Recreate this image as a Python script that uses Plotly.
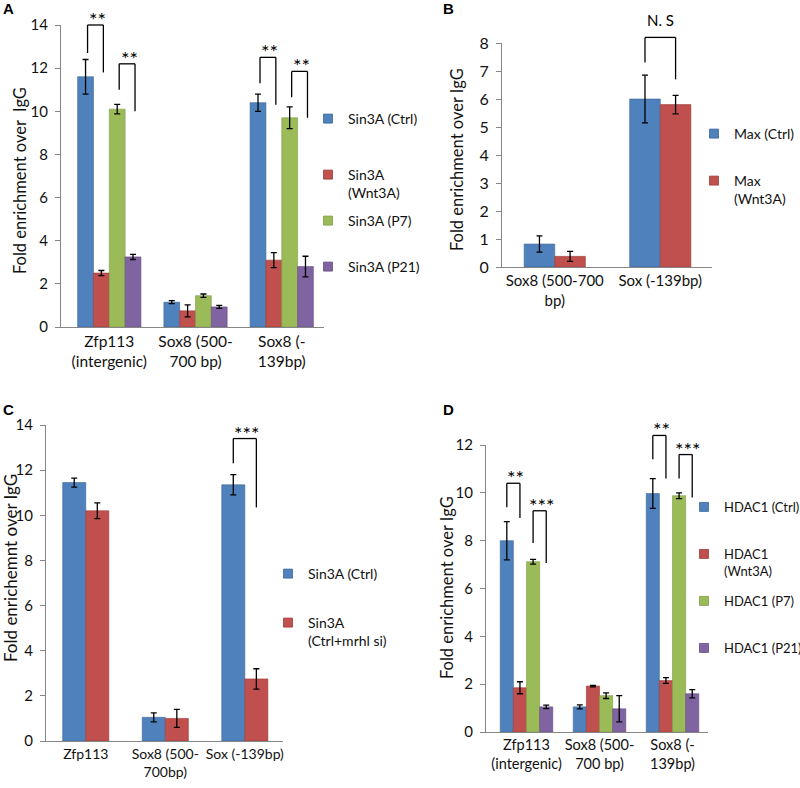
import plotly.graph_objects as go

# ---- data ----
# A: Sin3A ChIP, 4 conditions
a_sites = ["Zfp113<br>(intergenic)", "Sox8 (500-<br>700 bp)", "Sox8 (-<br>139bp)"]
a_names = ["Sin3A (Ctrl)", "Sin3A<br>(Wnt3A)", "Sin3A (P7)", "Sin3A (P21)"]
a_ctrl = [11.6, 1.15, 10.4]
a_ctrl_err = [0.8, 0.07, 0.4]
a_wnt = [2.5, 0.75, 3.1]
a_wnt_err = [0.12, 0.28, 0.35]
a_p7 = [10.1, 1.45, 9.7]
a_p7_err = [0.22, 0.08, 0.5]
a_p21 = [3.25, 0.93, 2.8]
a_p21_err = [0.12, 0.07, 0.48]

# B: Max ChIP
b_sites = ["Sox8 (500-700<br>bp)", "Sox (-139bp)"]
b_names = ["Max (Ctrl)", "Max<br>(Wnt3A)"]
b_ctrl = [0.82, 6.0]
b_ctrl_err = [0.29, 0.85]
b_wnt = [0.38, 5.8]
b_wnt_err = [0.18, 0.33]

# C: Sin3A after mrhl knockdown
c_sites = ["Zfp113", "Sox8 (500-<br>700bp)", "Sox (-139bp)"]
c_names = ["Sin3A (Ctrl)", "Sin3A<br>(Ctrl+mrhl si)"]
c_ctrl = [11.45, 1.05, 11.35]
c_ctrl_err = [0.2, 0.2, 0.45]
c_si = [10.2, 1.0, 2.75]
c_si_err = [0.35, 0.4, 0.45]

# D: HDAC1 ChIP
d_sites = ["Zfp113<br>(intergenic)", "Sox8 (500-<br>700 bp)", "Sox8 (-<br>139bp)"]
d_names = ["HDAC1 (Ctrl)", "HDAC1<br>(Wnt3A)", "HDAC1 (P7)", "HDAC1 (P21)"]
d_ctrl = [8.0, 1.05, 9.97]
d_ctrl_err = [0.8, 0.08, 0.62]
d_wnt = [1.85, 1.92, 2.15]
d_wnt_err = [0.25, 0.03, 0.12]
d_p7 = [7.12, 1.52, 9.88]
d_p7_err = [0.1, 0.12, 0.12]
d_p21 = [1.05, 0.97, 1.6]
d_p21_err = [0.07, 0.55, 0.17]

# significance brackets: (group, left bar, right bar, top, left foot, right foot, label)
a_sig = [(0, 0, 1, 14.0, 12.7, 11.8, "**"), (0, 2, 3, 12.2, 11.0, 10.0, "**"),
         (2, 0, 1, 12.5, 11.3, 10.3, "**"), (2, 2, 3, 11.85, 10.65, 9.7, "**")]
b_sig = [(1, 0, 1, 8.2, 7.3, 6.7, "N. S")]
c_sig = [(2, 0, 1, 13.4, 12.3, 10.35, "***")]
d_sig = [(0, 0, 1, 10.4, 9.4, 8.95, "**"), (0, 2, 3, 9.25, 7.9, 7.07, "***"),
         (2, 0, 1, 12.4, 11.4, 10.6, "**"), (2, 2, 3, 11.6, 10.6, 9.8, "***")]

COLORS = ["#4F81BD", "#C0504D", "#9BBB59", "#8064A2"]
EDGES = ["#3C6696", "#9C3B38", "#7E9A45", "#654D84"]
FONT = "Lato, 'Open Sans', sans-serif"
INK = "#111"
W, H = 800, 788


def px_x(a, b):
    return [a / W, b / W]


def px_y(bottom, top):
    return [1 - bottom / H, 1 - top / H]


# subplot boxes (pixel positions) and axis settings
panels = {
    "": dict(xd=px_x(61, 324), yd=px_y(327, 25), xr=[-0.56, 2.49], ymax=14, dt=2, tick=15, xt=15.5),
    "2": dict(xd=px_x(502, 712), yd=px_y(267, 43), xr=[-0.5, 1.49], ymax=8, dt=1, tick=16, xt=15),
    "3": dict(xd=px_x(46, 283), yd=px_y(741, 425), xr=[-0.5, 2.48], ymax=14, dt=2, tick=15, xt=14),
    "4": dict(xd=px_x(486, 708), yd=px_y(732, 445), xr=[-0.555, 2.486], ymax=12, dt=2, tick=15, xt=14.5),
}

fig = go.Figure()
legends = {}


def add_panel(ax, sites, names, vals, errs, bw, sig, nudge, leg_x, leg_y, leg_size):
    p = panels[ax]
    gw = bw * len(names)
    for k, (nm, v, e) in enumerate(zip(names, vals, errs)):
        # one legend per entry so each swatch can sit where Excel put it
        lid = "legend" if not legends else "legend%d" % (len(legends) + 1)
        legends[lid] = dict(x=leg_x / W, y=1 - (leg_y[k] - 15) / H, xanchor="left", yanchor="top",
                            valign="top", tracegroupgap=0, bgcolor="rgba(0,0,0,0)", itemwidth=30,
                            font=dict(family=FONT, size=leg_size, color=INK))
        fig.add_trace(go.Bar(
            x=sites, y=v, name=nm, width=bw, offset=-gw / 2 + k * bw, showlegend=False,
            marker=dict(color=COLORS[k], line=dict(color=EDGES[k], width=0.6)),
            error_y=dict(type="data", array=e, color="black", thickness=1.3, width=3),
            xaxis="x" + ax, yaxis="y" + ax, legend=lid, legendgroup=lid,
        ))
        # legend entry with a small square swatch, like the Excel legend
        fig.add_trace(go.Scatter(
            x=[None], y=[None], mode="markers", name=nm,
            marker=dict(symbol="square", size=9, color=COLORS[k],
                        line=dict(color=EDGES[k], width=0.8)),
            xaxis="x" + ax, yaxis="y" + ax, legend=lid, legendgroup=lid,
        ))
    r0, r1 = p["xr"]
    span_px = (p["xd"][1] - p["xd"][0]) * W
    xr = "x" + ax + " domain"
    yr = "y" + ax + " domain"

    def xd(g, s):
        return (g - gw / 2 + (s + 0.5) * bw - r0) / (r1 - r0) + nudge / span_px

    for g, s1, s2, top, lf, rf, lab in sig:
        x1, x2 = xd(g, s1), xd(g, s2)
        for (xa, ya, xb, yb) in [(x1, lf, x1, top), (x1, top, x2, top), (x2, top, x2, rf)]:
            fig.add_shape(type="line", xref=xr, yref=yr, x0=xa, y0=ya / p["ymax"], x1=xb,
                          y1=yb / p["ymax"], line=dict(color="black", width=1.3))
        star = lab.startswith("*")
        fig.add_annotation(xref=xr, yref=yr, x=(x1 + x2) / 2, y=top / p["ymax"], text=lab,
                           showarrow=False, xanchor="center", yanchor="bottom",
                           yshift=-8 if star else 6, xshift=2 if star else 0,
                           font=dict(family=FONT, size=20 if star else 15, color="black"))


add_panel("", a_sites, a_names, [a_ctrl, a_wnt, a_p7, a_p21],
          [a_ctrl_err, a_wnt_err, a_p7_err, a_p21_err], 0.1835, a_sig, 2,
          308, [118, 174, 220, 266], 14)
add_panel("2", b_sites, b_names, [b_ctrl, b_wnt], [b_ctrl_err, b_wnt_err],
          0.29, b_sig, 0, 694, [133, 180], 14)
add_panel("3", c_sites, c_names, [c_ctrl, c_si], [c_ctrl_err, c_si_err],
          0.29, c_sig, 0, 268, [573, 622], 14)
add_panel("4", d_sites, d_names, [d_ctrl, d_wnt, d_p7, d_p21],
          [d_ctrl_err, d_wnt_err, d_p7_err, d_p21_err], 0.18, d_sig, 0,
          684, [507, 554, 601, 648], 13)

layout = {}
for ax, p in panels.items():
    common = dict(showline=True, linecolor="#868686", linewidth=1, showgrid=False, zeroline=False)
    layout["xaxis" + ax] = dict(common, domain=p["xd"], anchor="y" + ax, range=p["xr"],
                                ticks="", tickangle=0,
                                tickfont=dict(family=FONT, size=p["xt"], color=INK))
    layout["yaxis" + ax] = dict(common, domain=p["yd"], anchor="x" + ax,
                                range=[0, p["ymax"]], dtick=p["dt"], ticks="outside",
                                ticklen=5, tickcolor="#868686", ticklabelstandoff=4,
                                tickfont=dict(family=FONT, size=p["tick"], color=INK))

fig.update_layout(
    **layout, **legends,
    width=W, height=H, barmode="overlay",
    margin=dict(l=0, r=0, t=0, b=0, autoexpand=False),
    plot_bgcolor="white", paper_bgcolor="white",
    showlegend=True,
)

# y axis titles (rotated), placed where the reference has them
for txt, x, y, size in [("Fold enrichment over  IgG", 20, 181, 16.5),
                        ("Fold enrichment over IgG", 457, 160, 16.5),
                        ("Fold enrichemnt over IgG", 10, 568, 17),
                        ("Fold enrichment over IgG", 447, 588, 16.5)]:
    fig.add_annotation(xref="paper", yref="paper", x=x / W, y=1 - y / H, text=txt,
                       textangle=-90, showarrow=False, xanchor="center", yanchor="middle",
                       font=dict(family=FONT, size=size, color=INK))

for lab, x, y in [("A", 8, 8), ("B", 448, 8), ("C", 8, 409), ("D", 448, 409)]:
    fig.add_annotation(xref="paper", yref="paper", x=x / W, y=1 - y / H, text="<b>" + lab + "</b>",
                       showarrow=False, xanchor="center", yanchor="middle",
                       font=dict(family="Liberation Sans, Arial", size=15, color="black"))

# drop the browser's default 8px body margin so the figure sits at the page origin
fig.write_html("out.html", config={"displayModeBar": False},
               post_script="document.body.style.margin='0';")
